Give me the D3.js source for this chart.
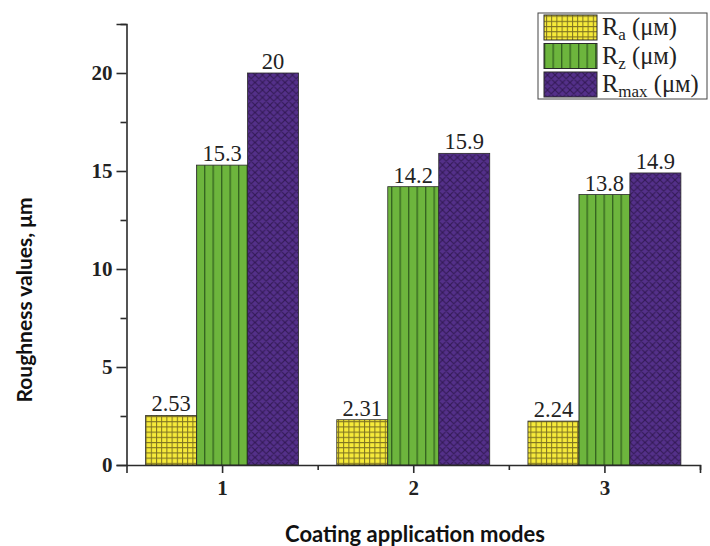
<!DOCTYPE html>
<html><head><meta charset="utf-8">
<script src="https://cdn.jsdelivr.net/npm/d3@7"></script>
<style>body{margin:0;background:#fff}svg{display:block}</style>
</head><body>
<svg id="c" width="710" height="546"></svg>
<script>
const categories = ["1", "2", "3"];
const seriesNames = ["a", "z", "max"];
const Ra = [2.53, 2.31, 2.24];
const Rz = [15.3, 14.2, 13.8];
const Rmax = [20, 15.9, 14.9];
const valueLabels = [["2.53","2.31","2.24"],["15.3","14.2","13.8"],["20","15.9","14.9"]];
const yTicks = [0, 5, 10, 15, 20];
const yMinor = [2.5, 7.5, 12.5, 17.5, 22.5];
const xMinor = [1.5, 2.5, 3.5];
const series = [Ra, Rz, Rmax];

const svg = d3.select("#c");
const defs = svg.append("defs");

// patterns
const pY = defs.append("pattern").attr("id","pY").attr("patternUnits","userSpaceOnUse").attr("width",5.2).attr("height",5.2);
pY.append("rect").attr("width",5.2).attr("height",5.2).attr("fill","#f6ea3a");
pY.append("path").attr("d","M0,0.5H5.2M0.5,0V5.2").attr("stroke","#7d7222").attr("stroke-width",1);

const pG = defs.append("pattern").attr("id","pG").attr("patternUnits","userSpaceOnUse").attr("width",8.5).attr("height",10);
pG.append("rect").attr("width",8.5).attr("height",10).attr("fill","#6db53d");
pG.append("path").attr("d","M0.7,0V10").attr("stroke","#2e5a1c").attr("stroke-width",1.2);

const pw = 7.5;
const pP = defs.append("pattern").attr("id","pP").attr("patternUnits","userSpaceOnUse").attr("width",pw).attr("height",pw);
pP.append("rect").attr("width",pw).attr("height",pw).attr("fill","#54308a");
pP.append("path").attr("d",`M0,0L${pw},${pw}M${pw},0L0,${pw}M-1,${pw-1}L1,${pw+1}M${pw-1},-1L${pw+1},1M-1,1L1,-1M${pw-1},${pw+1}L${pw+1},${pw-1}`).attr("stroke","#331a55").attr("stroke-width",1.1);

const fills = ["url(#pY)","url(#pG)","url(#pP)"];

const x = d3.scaleLinear().domain([0.5, 3.5]).range([126.5, 700]);
const y = d3.scaleLinear().domain([0, 22.5]).range([465, 24]);

const step = x(2) - x(1);
const groupW = step * 0.8;
const barW = groupW / 3;

// bars
series.forEach((vals, j) => {
  svg.append("g").selectAll("rect").data(vals).join("rect")
    .attr("x", (d, i) => x(i + 1) - groupW / 2 + j * barW)
    .attr("y", d => y(d))
    .attr("width", barW)
    .attr("height", d => y(0) - y(d))
    .attr("fill", fills[j])
    .attr("stroke", "#2a2a2a").attr("stroke-width", 0.8);
  svg.append("g").selectAll("text").data(vals).join("text")
    .attr("x", (d, i) => x(i + 1) - groupW / 2 + (j + 0.5) * barW)
    .attr("y", d => y(d) - 4)
    .attr("text-anchor", "middle")
    .attr("font-family", "Liberation Serif, serif")
    .attr("font-size", 22.5)
    .attr("fill", "#222")
    .text((d, i) => valueLabels[j][i]);
});

// axes
const axColor = "#2b2b2b";
const yAx = svg.append("g").attr("transform", `translate(${x(0.5)},0)`)
  .call(d3.axisLeft(y).tickValues(yTicks).tickSize(10).tickPadding(4).tickFormat(d3.format("d")));
const yAxMin = svg.append("g").attr("transform", `translate(${x(0.5)},0)`)
  .call(d3.axisLeft(y).tickValues(yMinor).tickSize(6).tickFormat(""));
const xAx = svg.append("g").attr("transform", `translate(0,${y(0)})`)
  .call(d3.axisBottom(x).tickValues([1, 2, 3]).tickSize(8).tickPadding(7).tickFormat(d => categories[d - 1]));
const xAxMin = svg.append("g").attr("transform", `translate(0,${y(0)})`)
  .call(d3.axisBottom(x).tickValues(xMinor).tickSize(5).tickFormat(""));
[yAx, yAxMin, xAx, xAxMin].forEach(g => {
  g.selectAll("path.domain").attr("stroke", axColor).attr("stroke-width", 1.6);
  g.selectAll("line").attr("stroke", axColor).attr("stroke-width", 1.6);
  g.selectAll("text").attr("font-family", "Liberation Serif, serif").attr("font-weight", "bold")
    .attr("font-size", 21).attr("fill", "#222");
});
[yAxMin, xAxMin].forEach(g => g.select("path.domain").remove());

// axis titles
svg.append("text").attr("x", 415).attr("y", 542).attr("text-anchor", "middle")
  .attr("font-family", "Lato, sans-serif").attr("font-weight", "bold").attr("font-size", 22)
  .attr("fill", "#111").text("Coating application modes");
svg.append("text").attr("transform", "translate(32,300) rotate(-90)").attr("text-anchor", "middle")
  .attr("font-family", "Lato, sans-serif").attr("font-weight", "bold").attr("font-size", 21)
  .attr("fill", "#111").text("Roughness values, μm");

// legend
const lg = svg.append("g");
lg.append("rect").attr("x", 538).attr("y", 13).attr("width", 169).attr("height", 86)
  .attr("fill", "#fff").attr("stroke", "#444").attr("stroke-width", 1);
seriesNames.forEach((s, j) => {
  const yy = 15 + j * 28.5;
  lg.append("rect").attr("x", 544).attr("y", yy).attr("width", 53).attr("height", 25)
    .attr("fill", fills[j]).attr("stroke", "#2a2a2a").attr("stroke-width", 1);
  const t = lg.append("text").attr("x", 602).attr("y", yy + 20)
    .attr("font-family", "Liberation Serif, serif").attr("font-size", 24.5).attr("fill", "#222");
  t.append("tspan").text("R");
  t.append("tspan").attr("font-size", 17).attr("dy", 5).text(s);
  t.append("tspan").attr("dy", -5).text(" (μм)");
});
</script>
</body></html>
